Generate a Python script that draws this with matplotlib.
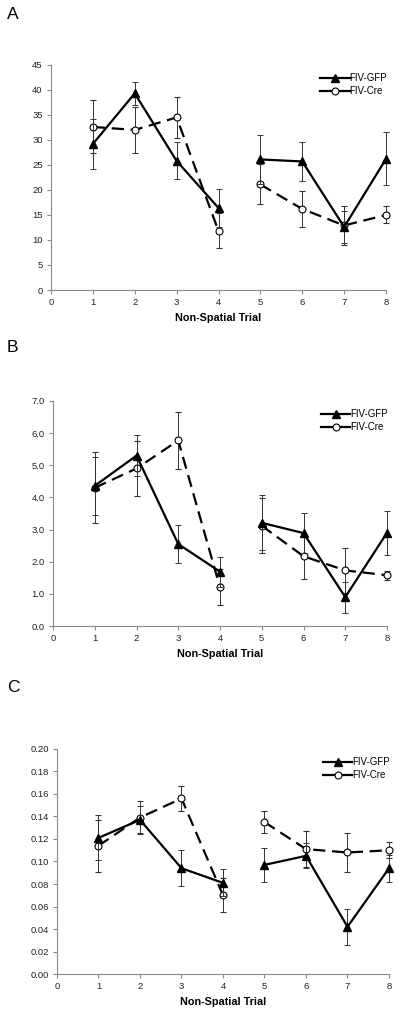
import matplotlib
matplotlib.use("Agg")
import matplotlib.pyplot as plt
import numpy as np

plt.rcParams['font.family'] = ['Liberation Sans', 'DejaVu Sans']

trials = [1, 2, 3, 4, 5, 6, 7, 8]

# panel A
gfp_a = [29.2, 39.3, 25.8, 16.4, 26.1, 25.7, 12.6, 26.2]
gfp_a_err = [5.0, 2.3, 3.7, 3.8, 4.9, 3.9, 3.2, 5.3]
cre_a = [32.6, 32.0, 34.5, 11.8, 21.1, 16.2, 12.9, 15.0]
cre_a_err = [5.3, 4.6, 4.1, 3.5, 4.0, 3.6, 3.9, 1.7]

# panel B
gfp_b = [4.36, 5.30, 2.55, 1.69, 3.21, 2.89, 0.90, 2.90]
gfp_b_err = [0.90, 0.63, 0.58, 0.47, 0.86, 0.62, 0.48, 0.68]
cre_b = [4.30, 4.90, 5.77, 1.20, 3.12, 2.17, 1.73, 1.58]
cre_b_err = [1.10, 0.85, 0.88, 0.56, 0.86, 0.70, 0.70, 0.14]

# panel C
gfp_c = [0.121, 0.137, 0.094, 0.081, 0.097, 0.105, 0.042, 0.094]
gfp_c_err = [0.020, 0.012, 0.016, 0.012, 0.015, 0.011, 0.016, 0.012]
cre_c = [0.114, 0.139, 0.156, 0.070, 0.135, 0.111, 0.108, 0.110]
cre_c_err = [0.023, 0.015, 0.011, 0.015, 0.010, 0.016, 0.017, 0.007]

panels = [
    ('A', gfp_a, gfp_a_err, cre_a, cre_a_err, 45, 5, '%d', [0.1275, 0.714, 0.8375, 0.222], 0.993),
    ('B', gfp_b, gfp_b_err, cre_b, cre_b_err, 7.0, 1.0, '%.1f', [0.1325, 0.3826, 0.835, 0.222], 0.665),
    ('C', gfp_c, gfp_c_err, cre_c, cre_c_err, 0.20, 0.02, '%.2f', [0.1425, 0.0394, 0.830, 0.222], 0.329),
]

fig = plt.figure(figsize=(4.0, 10.14), dpi=100)
axis_col = '#8a8a8a'

for letter, gfp, gfp_err, cre, cre_err, ymax, ystep, fmt, rect, ly in panels:
    ax = fig.add_axes(rect)
    x = np.array(trials)
    for seg in (slice(0, 4), slice(4, 8)):
        ax.errorbar(x[seg], np.array(cre)[seg], yerr=np.array(cre_err)[seg], color='black',
                    ls=(0, (5.5, 3)), lw=1.6, marker='o', ms=5, mfc='white', mec='black', mew=0.8,
                    ecolor='#333333', elinewidth=0.7, capsize=2.2, capthick=0.7, zorder=3,
                    clip_on=False)
        ax.errorbar(x[seg], np.array(gfp)[seg], yerr=np.array(gfp_err)[seg], color='black',
                    ls='-', lw=1.6, marker='^', ms=5.5, mfc='black', mec='black',
                    ecolor='#333333', elinewidth=0.7, capsize=2.2, capthick=0.7, zorder=4,
                    clip_on=False)
    ax.plot([], [], color='black', ls='-', lw=1.6, marker='^', ms=5.5, label='FIV-GFP')
    ax.plot([], [], color='black', ls='-', lw=1.6, marker='o', ms=5, mfc='white', mew=0.8, label='FIV-Cre')
    ax.set_xlim(0, 8)
    ax.set_ylim(0, ymax)
    ax.set_xticks(range(0, 9))
    ax.set_yticks(np.arange(0, ymax + ystep / 2, ystep))
    ax.yaxis.set_major_formatter(matplotlib.ticker.FormatStrFormatter(fmt))
    for s in ('top', 'right'):
        ax.spines[s].set_visible(False)
    for s in ('left', 'bottom'):
        ax.spines[s].set_color(axis_col)
        ax.spines[s].set_linewidth(0.8)
    ax.tick_params(labelsize=6.8, length=3, width=0.8, color=axis_col, labelcolor='#222222', pad=3)
    ax.set_xlabel('Non-Spatial Trial', fontsize=7.8, fontweight='bold', labelpad=4)
    ax.legend(loc='upper right', bbox_to_anchor=(1.015, 0.98), frameon=False, fontsize=7,
              handlelength=3.0, handletextpad=0.0, labelspacing=0.3, borderaxespad=0)
    fig.text(0.017, ly, letter, fontsize=12.5, va='top', ha='left')

fig.savefig('out.png', dpi=100)
